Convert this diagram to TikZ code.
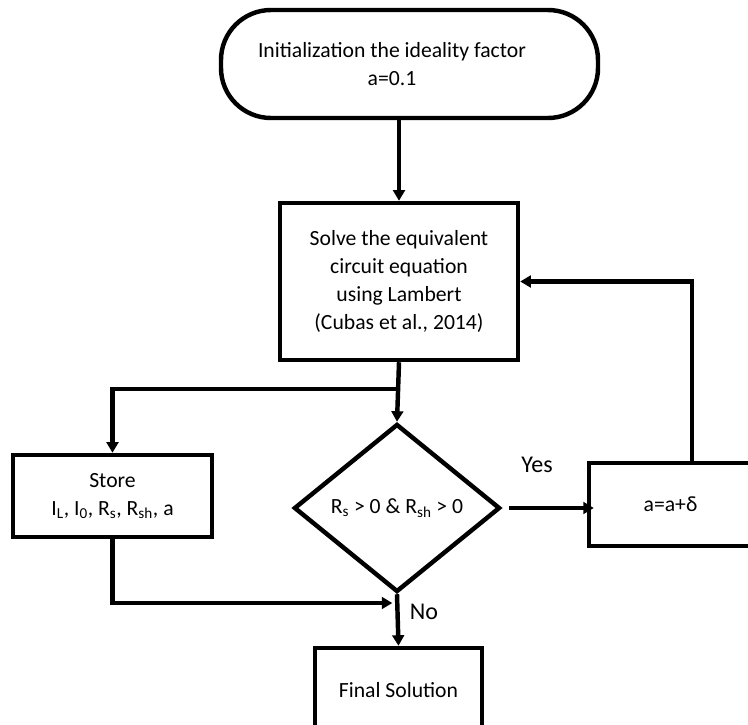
\documentclass[tikz,border=0pt]{standalone}
\usepackage{fontspec}
\setmainfont{Carlito}
\usetikzlibrary{arrows.meta,shapes.geometric}

\begin{document}
\begin{tikzpicture}[x=0.03cm,y=-0.03cm,>={Triangle[length=9pt,width=10pt]},
		box/.style={draw,line width=3.8pt,align=center,inner sep=0pt,font=\fontsize{18.5}{24}\selectfont},
		flow/.style={line width=3.8pt,->},
		lbl/.style={font=\fontsize{20.5}{24}\selectfont}]
	\useasboundingbox[fill=white] (0,0) rectangle (748,725);
	\clip (0,0) rectangle (748,725);
	\node[box,rounded corners=1.5cm,minimum width=11.31cm,minimum height=3.24cm] (start) at (409.5,64) {Initialization the ideality factor\hspace*{1.05cm}\\a=0.1\hspace*{1.05cm}};
	\node[box,minimum width=7.14cm,minimum height=4.71cm] (solve) at (399,281.5) {Solve the equivalent\\circuit equation\\using Lambert\\(Cubas et al., 2014)};
	\node[box,minimum width=5.97cm,minimum height=2.46cm] (store) at (112.5,496) {Store\\I\textsubscript{L}, I\textsubscript{0}, R\textsubscript{s}, R\textsubscript{sh}, a};
	\node[box,diamond,minimum width=6.18cm,minimum height=5.04cm] (dec) at (397,508) {R\textsubscript{s} > 0 \& R\textsubscript{sh} > 0};
	\node[box,minimum width=4.89cm,minimum height=2.49cm] (abox) at (670.5,504.5) {a=a+δ};
	\node[box,minimum width=5.01cm,minimum height=2.52cm] (final) at (398.5,690) {Final Solution};
	\coordinate (br) at (398,389);
	\coordinate (jn) at (397,603);
	\coordinate (fb) at (692,283);
	\draw[flow] (start.south -| solve.north) -- (solve.north);
	\draw[flow] (solve.south) -- (dec.north);
	\draw[flow] (br) -| (store.north);
	\draw[flow,shorten >=4pt] (store.south) |- (jn);
	\draw[flow] (dec.south) -- (final.north);
	\draw[flow] ([xshift=6pt]dec.east) -- ([xshift=6pt]dec.east -| abox.west);
	\draw[flow] (abox.north -| fb) |- (solve.east);
	\node[lbl] (yes) at (537,465) {Yes};
	\node[lbl] (no) at (424,612) {No};
\end{tikzpicture}
\end{document}
